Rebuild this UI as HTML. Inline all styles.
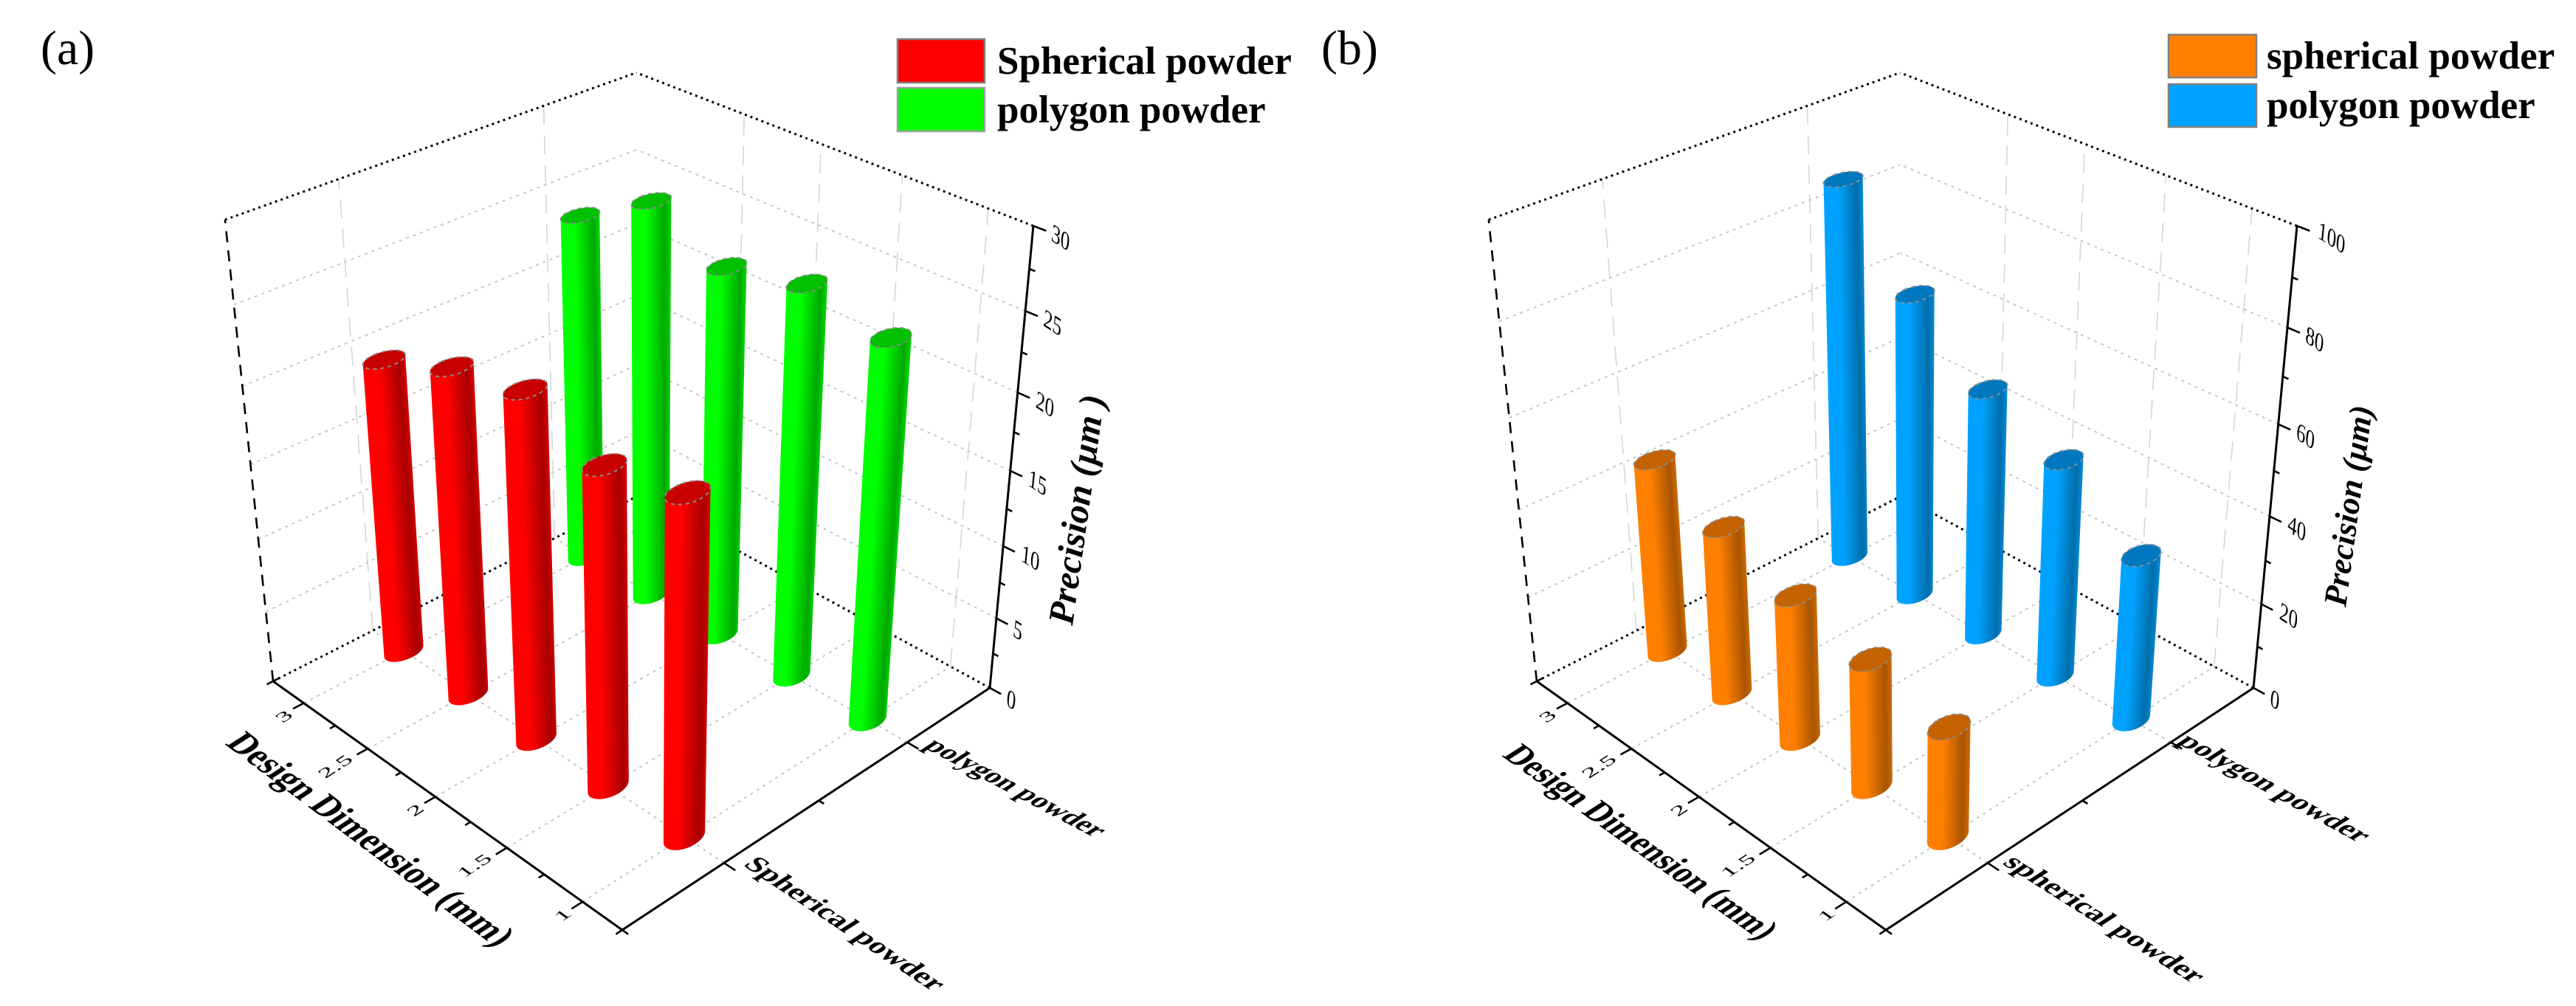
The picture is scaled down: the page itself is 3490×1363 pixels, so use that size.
<!DOCTYPE html>
<html lang="en">
<head>
<meta charset="utf-8">
<title>3D cylinder charts of precision by design dimension</title>
<style>
html,body{margin:0;padding:0;background:#fff;width:3490px;height:1363px;overflow:hidden}
svg{display:block}
text{font-family:"Liberation Serif",serif;fill:#000}
</style>
</head>
<body>
<svg id="figure" xmlns="http://www.w3.org/2000/svg" width="3490" height="1363" viewBox="0 0 3490 1363">
  <defs id="defs"></defs>
  <rect width="3490" height="1363" fill="#fff"/>
  <text x="55" y="87" font-size="66">(a)</text>
  <text x="1790" y="87" font-size="66">(b)</text>
  <g>
    <rect x="1216" y="53" width="118" height="59" fill="#ff0000" stroke="#808080" stroke-width="2.5"/>
    <text x="1351" y="100" font-size="53" font-weight="bold">Spherical powder</text>
    <rect x="1216" y="119" width="118" height="59" fill="#00ff00" stroke="#a0a0a0" stroke-width="2.5"/>
    <text x="1351" y="166" font-size="53" font-weight="bold">polygon powder</text>
  </g>
  <g>
    <rect x="2938" y="47" width="119" height="58" fill="#ff8000" stroke="#808080" stroke-width="2.5"/>
    <text x="3071" y="93" font-size="53" font-weight="bold">spherical powder</text>
    <rect x="2938" y="114" width="119" height="58" fill="#00a2ff" stroke="#808080" stroke-width="2.5"/>
    <text x="3071" y="160" font-size="53" font-weight="bold">polygon powder</text>
  </g>
</svg>
<script>
// ---- chart data ----
const designDimensions = [3, 2.5, 2, 1.5, 1];
const xTickValues = [3, 2.75, 2.5, 2.25, 2, 1.75, 1.5, 1.25, 1];
const xTickLabels = ['3', '2.5', '2', '1.5', '1'];
const wallGridDimensions = [2.5, 2, 1.5, 1];
const sphericalA = [20.0, 21.9, 22.9, 20.9, 21.9];
const polygonA = [24.0, 26.9, 24.9, 26.0, 25.0];
const sphericalB = [44.9, 38.8, 33.1, 29.0, 24.8];
const polygonB = [87.7, 70.0, 57.0, 49.9, 37.9];
const zTicksA = [0, 5, 10, 15, 20, 25, 30];
const zTicksB = [0, 20, 40, 60, 80, 100];

// ---- projection: axis functions map data to a perspective box ----
const svg = document.getElementById('figure');
const defs = document.getElementById('defs');
const NS = 'http://www.w3.org/2000/svg';
function pOf(v) { return (v - 0.75) / 2.5; }
function qOf(i) { return (i + 0.5) / 2; }
function project(p, q, r, ox) {
  const w = 1 + 0.1522 * p + 0.1492 * q - 0.1304 * r;
  return [
    (843 - 416.7 * p + 698.1 * q - 114.8 * r) / w + ox,
    (1260 - 196.5 * p - 188.9 * q - 759.3 * r) / w
  ];
}
function mk(tag, attrs, parent) {
  const el = document.createElementNS(NS, tag);
  for (const k in attrs) el.setAttribute(k, attrs[k]);
  (parent || svg).appendChild(el);
  return el;
}
function seg(a, b, style, parent) {
  return mk('line', Object.assign({ x1: a[0], y1: a[1], x2: b[0], y2: b[1] }, style), parent);
}
const GRID_DOT = { stroke: '#c8c8c8', 'stroke-width': 2, 'stroke-dasharray': '4 6', fill: 'none' };
const WALL_DASH = { stroke: '#d8d8d8', 'stroke-width': 1.7, 'stroke-dasharray': '26 14', fill: 'none' };
const BLACK_DOT = { stroke: '#000', 'stroke-width': 3, 'stroke-dasharray': '3 5', fill: 'none' };
const BLACK_DASH = { stroke: '#000', 'stroke-width': 2.6, 'stroke-dasharray': '15 11', fill: 'none' };
const AXIS = { stroke: '#000', 'stroke-width': 3, fill: 'none' };
const TICK = { stroke: '#000', 'stroke-width': 2.6, fill: 'none' };

function planeText(str, x, y, d, u, fs, sx, sy, anchor, weight, parent) {
  return mk('text', {
    transform: 'matrix(' + d[0] * sx + ' ' + d[1] * sx + ' ' + (-u[0] * sy) + ' ' + (-u[1] * sy) + ' ' + x + ' ' + y + ')',
    'font-size': fs, 'text-anchor': anchor, 'font-weight': weight
  }, parent);
}

function hull(points) {
  const pts = points.slice().sort(function (a, b) { return a[0] - b[0] || a[1] - b[1]; });
  function cross(o, a, b) { return (a[0] - o[0]) * (b[1] - o[1]) - (a[1] - o[1]) * (b[0] - o[0]); }
  const lower = [], upper = [];
  pts.forEach(function (pt) {
    while (lower.length > 1 && cross(lower[lower.length - 2], lower[lower.length - 1], pt) <= 0) lower.pop();
    lower.push(pt);
  });
  pts.slice().reverse().forEach(function (pt) {
    while (upper.length > 1 && cross(upper[upper.length - 2], upper[upper.length - 1], pt) <= 0) upper.pop();
    upper.push(pt);
  });
  return lower.slice(0, -1).concat(upper.slice(0, -1));
}
function pathOf(pts) {
  return 'M' + pts.map(function (pt) { return pt[0].toFixed(1) + ' ' + pt[1].toFixed(1); }).join('L') + 'Z';
}
function circle3d(p, q, r, ox) {
  const out = [];
  for (let i = 0; i < 60; i++) {
    const t = i / 60 * Math.PI * 2;
    out.push(project(p + 0.028 * Math.cos(t), q + 0.045 * Math.sin(t), r, ox));
  }
  return out;
}

let gradientCount = 0;
function drawBar(value, dim, qIndex, zMax, ox, palette, parent) {
  const p = pOf(dim), q = qOf(qIndex), r = value / zMax;
  const bottom = circle3d(p, q, 0, ox), top = circle3d(p, q, r, ox);
  const c0 = project(p, q, 0, ox), c1 = project(p, q, r, ox);
  let ax = c1[0] - c0[0], ay = c1[1] - c0[1];
  const len = Math.hypot(ax, ay) || 1;
  ax /= len; ay /= len;
  const nx = -ay * (ay < 0 ? 1 : -1), ny = ax * (ay < 0 ? 1 : -1);
  let lo = Infinity, hi = -Infinity;
  bottom.concat(top).forEach(function (pt) {
    const d = (pt[0] - c0[0]) * nx + (pt[1] - c0[1]) * ny;
    if (d < lo) lo = d;
    if (d > hi) hi = d;
  });
  const id = 'shade' + (gradientCount++);
  const grad = mk('linearGradient', {
    id: id, gradientUnits: 'userSpaceOnUse',
    x1: c0[0] + nx * lo, y1: c0[1] + ny * lo,
    x2: c0[0] + nx * hi, y2: c0[1] + ny * hi
  }, defs);
  [[0, palette.main], [0.36, palette.main], [0.84, palette.dark], [1, palette.edge]].forEach(function (s) {
    mk('stop', { offset: s[0], 'stop-color': s[1] }, grad);
  });
  const group = mk('g', {}, parent);
  
  
  const body = mk('path', { d: pathOf(hull(bottom.concat(top))), fill: 'url(#' + id + ')' }, group);
  
  
  const cap = mk('path', { d: pathOf(top), fill: palette.top, stroke: '#8a8a8a', 'stroke-width': 2, 'stroke-dasharray': '5 5' }, group);
  
  
}

function drawPanel(cfg) {
  const ox = cfg.ox;
  const panel = mk('g', {});
  
  
  const grid = mk('g', {}, panel);
  
  

  // floor grid and wall verticals
  xTickLabels.forEach(function (lab) {
    const p = pOf(parseFloat(lab));
    const a = seg(project(p, 0, 0, ox), project(p, 1, 0, ox), GRID_DOT, grid);
    
    
  });
  wallGridDimensions.forEach(function (v) {
    const p = pOf(v);
    const b = seg(project(p, 1, 0, ox), project(p, 1, 1, ox), WALL_DASH, grid);
    
    
  });
  [0, 1].forEach(function (i) {
    const q = qOf(i);
    const a = seg(project(0, q, 0, ox), project(1, q, 0, ox), GRID_DOT, grid);
    
    
    const b = seg(project(1, q, 0, ox), project(1, q, 1, ox), WALL_DASH, grid);
    
    
  });
  const zMax = cfg.zTicks[cfg.zTicks.length - 1];
  cfg.zTicks.slice(1, -1).forEach(function (v) {
    const r = v / zMax;
    const a = seg(project(0, 1, r, ox), project(1, 1, r, ox), GRID_DOT, grid);
    
    
    const b = seg(project(1, 0, r, ox), project(1, 1, r, ox), GRID_DOT, grid);
    
    
  });

  // box frame
  const frame = mk('g', {}, panel);
  
  
  const f1 = seg(project(1, 0, 0, ox), project(1, 1, 0, ox), BLACK_DOT, frame);
  
  
  const f2 = seg(project(0, 1, 0, ox), project(1, 1, 0, ox), BLACK_DOT, frame);
  
  
  const f3 = seg(project(1, 0, 1, ox), project(1, 1, 1, ox), BLACK_DOT, frame);
  
  
  const f4 = seg(project(0, 1, 1, ox), project(1, 1, 1, ox), BLACK_DOT, frame);
  
  
  const f5 = seg(project(1, 0, 0, ox), project(1, 0, 1, ox), BLACK_DASH, frame);
  
  

  // bars, back to front
  const bars = mk('g', {}, panel);
  
  
  designDimensions.forEach(function (dim, i) {
    drawBar(cfg.polygon[i], dim, 1, zMax, ox, cfg.polyPalette, bars);
  });
  designDimensions.forEach(function (dim, i) {
    drawBar(cfg.spherical[i], dim, 0, zMax, ox, cfg.sphPalette, bars);
  });

  // axes
  const axes = mk('g', {}, panel);
  
  
  const ax1 = seg(project(0, 0, 0, ox), project(1, 0, 0, ox), AXIS, axes);
  
  
  const ax2 = seg(project(0, 0, 0, ox), project(0, 1, 0, ox), AXIS, axes);
  
  
  const ax3 = seg(project(0, 1, 0, ox), project(0, 1, 1, ox), AXIS, axes);
  
  

  // x ticks
  xTickValues.forEach(function (v) {
    const major = xTickLabels.indexOf(String(v)) >= 0;
    const p = pOf(v);
    const t = seg(project(p, 0, 0, ox), project(p, major ? -0.026 : -0.013, 0, ox), TICK, axes);
    
    
  });
  xTickLabels.forEach(function (lab) {
    const pt = project(pOf(parseFloat(lab)), 0, 0, ox);
    const far = lab.length > 1;
    const el = planeText(lab, pt[0] + (far ? -44 : -27), pt[1] + (far ? 24 : 18), [0.84, -0.54], [-0.81, -0.58], 30, 1.25, 0.75, 'middle', 'normal', axes);
    el.textContent = lab;
    el.setAttribute('dy', '0.33em');
    
    
  });

  // powder ticks
  [0, 0.5, 1].forEach(function (i) {
    const q = qOf(i);
    const t = seg(project(0, q, 0, ox), project(i === 0.5 ? -0.013 : -0.028, q, 0, ox), TICK, axes);
    
    
  });

  // corner crosses
  const c1 = seg(project(-0.015, 0, 0, ox), project(0.015, 0, 0, ox), TICK, axes);
  
  
  const c2 = seg(project(0, -0.015, 0, ox), project(0, 0.015, 0, ox), TICK, axes);
  
  
  const c3 = seg(project(1, -0.015, 0, ox), project(1, 0.015, 0, ox), TICK, axes);
  
  

  // z ticks
  const zStep = cfg.zTicks[1];
  for (let v = 0; v <= zMax + 1e-6; v += zStep / 2) {
    const r = v / zMax;
    const major = cfg.zTicks.indexOf(v) >= 0;
    const t = seg(project(0, 1, r, ox), project(major ? -0.028 : -0.013, 1, r, ox), TICK, axes);
    
    
  }
  cfg.zTicks.forEach(function (v) {
    const s = String(v);
    const pt = project(0, 1, v / zMax, ox);
    const dx = s.length === 1 ? 29 : (s.length === 2 ? 37 : 47);
    const el = planeText(s, pt[0] + dx, pt[1] + 16, [0.84, 0.54], [0.1, -1], 34, 0.85, 1, 'middle', 'normal', axes);
    el.textContent = s;
    el.setAttribute('dy', '0.33em');
    
    
  });

  // axis titles and category labels
  const xt = cfg.xTitle;
  const xTitle = planeText('', xt.x, xt.y, [xt.dx, xt.dy], [0.84, -0.54], 40, xt.sx, xt.sy, 'start', 'bold', axes);
  xTitle.textContent = 'Design Dimension (mm)';
  
  

  const s1 = cfg.sphLabel;
  const cat1 = planeText('', s1.x, s1.y, [s1.dx, s1.dy], [0.84, -0.54], 40, s1.sx, s1.sy, 'start', 'bold', axes);
  cat1.textContent = s1.text;
  
  

  const s2 = cfg.polyLabel;
  const cat2 = planeText('', s2.x, s2.y, [s2.dx, s2.dy], [0.84, -0.54], 40, s2.sx, s2.sy, 'start', 'bold', axes);
  cat2.textContent = s2.text;
  
  

  const zt = cfg.zTitle;
  const zTitle = mk('text', {
    transform: 'translate(' + zt.x + ' ' + zt.y + ') rotate(' + zt.angle + ')',
    'font-size': zt.size, 'font-weight': 'bold', 'font-style': 'italic'
  }, axes);
  zTitle.textContent = zt.text;
  
  
}

drawPanel({
  id: 'a', ox: 0, zTicks: zTicksA, spherical: sphericalA, polygon: polygonA,
  sphPalette: { name: 'spherical', main: '#ff0000', dark: '#a80000', edge: '#d80000', top: '#c80000' },
  polyPalette: { name: 'polygon', main: '#00ff00', dark: '#00a800', edge: '#00d800', top: '#00c000' },
  xTitle: { x: 304, y: 1008, dx: 0.8, dy: 0.6, sx: 1.12, sy: 1.3 },
  sphLabel: { text: 'Spherical powder', x: 1006, y: 1172, dx: 0.832, dy: 0.555, sx: 1.03, sy: 0.95 },
  polyLabel: { text: 'polygon powder', x: 1250, y: 1012, dx: 0.884, dy: 0.468, sx: 0.96, sy: 0.95 },
  zTitle: { text: 'Precision (\u00b5m )', x: 1453, y: 848, angle: -82, size: 49 }
});
drawPanel({
  id: 'b', ox: 1712, zTicks: zTicksB, spherical: sphericalB, polygon: polygonB,
  sphPalette: { name: 'spherical', main: '#ff8000', dark: '#a85400', edge: '#d06a00', top: '#c46200' },
  polyPalette: { name: 'polygon', main: '#00a2ff', dark: '#006eaa', edge: '#0088d8', top: '#0078c0' },
  xTitle: { x: 2034, y: 1024, dx: 0.814, dy: 0.581, sx: 1.05, sy: 1.25 },
  sphLabel: { text: 'spherical powder', x: 2712, y: 1170, dx: 0.846, dy: 0.533, sx: 1.04, sy: 0.95 },
  polyLabel: { text: 'polygon powder', x: 2948, y: 1006, dx: 0.876, dy: 0.482, sx: 1.03, sy: 0.95 },
  zTitle: { text: 'Precision (\u00b5m)', x: 3178, y: 823, angle: -82.4, size: 44.5 }
});
</script>
</body>
</html>
